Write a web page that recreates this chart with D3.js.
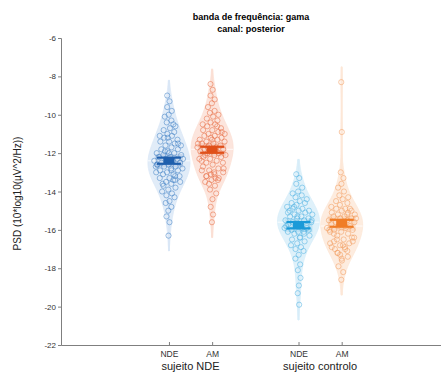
<!DOCTYPE html>
<html>
<head>
<meta charset="utf-8">
<script src="https://cdn.jsdelivr.net/npm/d3@7"></script>
<style>
    body { margin: 0; background: #fff; }
    svg { font-family: "Liberation Sans", Arial, sans-serif; }
</style>
</head>
<body>
<div id="chart"></div>
<script>
// categories: label, group, x position on the axis
const categories = ['NDE', 'AM', 'NDE', 'AM'];
const positions = [1, 2, 4, 5];
const groups = ['sujeito NDE', 'sujeito controlo'];
const yTicks = [-6, -8, -10, -12, -14, -16, -18, -20, -22];

// PSD values, one array per violin
const ndeNde = [-9.0, -9.3, -9.6, -9.8, -10.0, -10.1, -10.3, -10.4, -10.6, -10.7, -10.8, -10.9, -11.0, -11.1, -11.1,
    -11.2, -11.3, -11.4, -11.4, -11.5, -11.6, -11.6, -11.7, -11.8, -11.8, -11.9, -12.0, -12.0, -12.1, -12.1, -12.2,
    -12.2, -12.3, -12.3, -12.4, -12.4, -12.5, -12.5, -12.6, -12.6, -12.7, -12.7, -12.8, -12.8, -12.9, -12.9, -13.0,
    -13.0, -13.1, -13.1, -13.2, -13.3, -13.3, -13.4, -13.5, -13.5, -13.6, -13.7, -13.8, -13.9, -14.0, -14.1, -14.2,
    -14.3, -14.5, -14.6, -14.8, -15.0, -15.3, -15.6, -16.3, -11.5, -12.0, -12.6, -13.2, -11.9, -12.3, -12.9, -13.6,
    -10.5, -11.2, -12.7, -13.4];
const ndeAm = [-8.4, -8.7, -9.0, -9.2, -9.4, -9.6, -9.8, -9.9, -10.0, -10.1, -10.2, -10.3, -10.4, -10.5, -10.5,
    -10.6, -10.7, -10.8, -10.8, -10.9, -11.0, -11.0, -11.1, -11.1, -11.2, -11.2, -11.3, -11.3, -11.4, -11.4, -11.5,
    -11.5, -11.6, -11.6, -11.7, -11.7, -11.8, -11.8, -11.9, -11.9, -12.0, -12.0, -12.1, -12.1, -12.2, -12.2, -12.3,
    -12.3, -12.4, -12.5, -12.5, -12.6, -12.7, -12.8, -12.9, -13.0, -13.1, -13.2, -13.3, -13.4, -13.5, -13.7, -13.9,
    -14.1, -14.4, -14.8, -15.2, -15.6, -11.5, -11.9, -12.1, -10.9, -11.3, -12.4, -10.6, -11.7, -12.8, -13.0, -13.2,
    -13.4, -13.1, -12.9, -13.3, -13.6];
const ctrlNde = [-13.1, -13.3, -13.6, -13.8, -14.0, -14.1, -14.2, -14.3, -14.4, -14.5, -14.6, -14.6, -14.7, -14.8,
    -14.9, -14.9, -15.0, -15.0, -15.1, -15.1, -15.2, -15.2, -15.3, -15.3, -15.4, -15.4, -15.5, -15.5, -15.6, -15.6,
    -15.7, -15.7, -15.8, -15.8, -15.9, -15.9, -16.0, -16.0, -16.1, -16.1, -16.2, -16.2, -16.3, -16.4, -16.5, -16.6,
    -16.7, -16.8, -16.9, -17.0, -17.1, -17.3, -17.5, -17.8, -18.1, -18.5, -18.9, -19.3, -19.9, -15.3, -15.8, -16.1,
    -14.8, -15.5, -16.4, -15.0, -15.9];
const ctrlAm = [-8.3, -10.9, -13.0, -13.3, -13.6, -13.8, -14.0, -14.2, -14.3, -14.4, -14.5, -14.6, -14.7, -14.8,
    -14.9, -14.9, -15.0, -15.0, -15.1, -15.1, -15.2, -15.2, -15.3, -15.3, -15.4, -15.4, -15.5, -15.5, -15.6, -15.6,
    -15.7, -15.7, -15.8, -15.8, -15.9, -15.9, -16.0, -16.0, -16.1, -16.1, -16.2, -16.3, -16.4, -16.5, -16.6, -16.7,
    -16.8, -16.9, -17.0, -17.2, -17.4, -17.6, -17.9, -18.2, -18.6, -15.4, -15.8, -16.2, -14.9, -15.6, -16.0, -15.2,
    -16.5, -16.6, -16.8, -17.0, -17.1, -17.3, -16.7, -16.9, -17.2, -16.4, -17.5];

const series = [ndeNde, ndeAm, ctrlNde, ctrlAm];

// fill, point edge, mean marker colours per violin
const violinFill = ['#dae7f6', '#fbdfd4', '#d7edf9', '#fde7d7'];
const pointColor = ['#4a86c8', '#e8714a', '#55b4e2', '#f3a064'];
const meanColor = ['#1f5fad', '#e0501a', '#1b9ad8', '#f07d26'];

const width = 441, height = 372;
const margin = {top: 38, right: 0, bottom: 27, left: 61};

const svg = d3.select('#chart').append('svg')
    .attr('width', width)
    .attr('height', height);

const x = d3.scaleLinear().domain([-1.5, 7.3]).range([margin.left, width]);
const y = d3.scaleLinear().domain([-22, -6]).range([height - margin.bottom, margin.top]);

// gaussian kernel density estimate
function kde(values, bw, grid) {
    const k = v => Math.exp(-0.5 * v * v) / Math.sqrt(2 * Math.PI);
    return grid.map(t => [t, d3.mean(values, v => k((t - v) / bw)) / bw]);
}

const halfWidth = 21;
const bandwidth = 0.65;
const g = svg.append('g');

series.forEach((vals, i) => {
    const cx = x(positions[i]);
    const lo = d3.min(vals) - 0.8, hi = d3.max(vals) + 0.8;
    const grid = d3.range(lo, hi, 0.05);
    const dens = kde(vals, bandwidth, grid);
    const maxD = d3.max(dens, d => d[1]);
    const w = d3.scaleLinear().domain([0, maxD]).range([0, halfWidth]);
    const densAt = v => kde(vals, bandwidth, [v])[0][1];

    const area = d3.area()
        .curve(d3.curveBasis)
        .y(d => y(d[0]))
        .x0(d => cx - w(d[1]))
        .x1(d => cx + w(d[1]));

    g.append('path')
        .datum(dens)
        .attr('d', area)
        .attr('fill', violinFill[i])
        .attr('fill-opacity', 0.8)
        .attr('stroke', violinFill[i])
        .attr('stroke-width', 0.8);

    // faint centre line through the whole distribution
    g.append('line')
        .attr('x1', cx).attr('x2', cx)
        .attr('y1', y(hi)).attr('y2', y(lo))
        .attr('stroke', violinFill[i])
        .attr('stroke-width', 2);

    // white median line across the violin
    const med = d3.median(vals);
    g.append('line')
        .attr('x1', cx - w(densAt(med))).attr('x2', cx + w(densAt(med)))
        .attr('y1', y(med)).attr('y2', y(med))
        .attr('stroke', '#fff')
        .attr('stroke-opacity', 0.8)
        .attr('stroke-width', 1);

    // scatter, spread by local density
    g.append('g')
        .selectAll('circle')
        .data(vals)
        .enter().append('circle')
        .attr('cx', (v, j) => cx + (((j * 0.6180339) % 1) * 2 - 1) * w(densAt(v)) * 0.72)
        .attr('cy', v => y(v))
        .attr('r', 2.6)
        .attr('fill', 'none')
        .attr('stroke', pointColor[i])
        .attr('stroke-opacity', 0.7)
        .attr('stroke-width', 0.8);

    // mean +/- sem marker
    const m = d3.mean(vals);
    const sem = d3.deviation(vals) / Math.sqrt(vals.length);
    const mk = g.append('g');
    mk.append('rect')
        .attr('x', cx - 14).attr('width', 28)
        .attr('y', y(m + 2.2 * sem)).attr('height', y(m - 2.2 * sem) - y(m + 2.2 * sem))
        .attr('fill', meanColor[i])
        .attr('fill-opacity', 0.15);
    mk.append('rect')
        .attr('x', cx - 5.5).attr('width', 11)
        .attr('y', y(m + sem)).attr('height', y(m - sem) - y(m + sem))
        .attr('fill', meanColor[i]);
    [m + sem, m - sem].forEach(v => {
        mk.append('line')
            .attr('x1', cx - 12).attr('x2', cx + 12)
            .attr('y1', y(v)).attr('y2', y(v))
            .attr('stroke', meanColor[i])
            .attr('stroke-width', 2.2);
    });
});

// axes
const axisColor = '#7f7f7f';
const yAxis = svg.append('g')
    .attr('transform', `translate(${margin.left},0)`)
    .call(d3.axisLeft(y).tickValues(yTicks).tickSize(3).tickPadding(2).tickFormat(d3.format('d')));
yAxis.select('.domain').attr('stroke', axisColor);
yAxis.selectAll('.tick line').attr('stroke', axisColor);
yAxis.selectAll('.tick text')
    .attr('fill', '#333')
    .style('font-size', '8px')
    .text(d => String(d).replace('−', '-'));

const xAxis = svg.append('g')
    .attr('transform', `translate(0,${height - margin.bottom})`)
    .call(d3.axisBottom(x).tickValues(positions).tickSize(-3).tickSizeOuter(0).tickFormat((d, i) => categories[i]));
xAxis.select('.domain').attr('stroke', axisColor);
xAxis.selectAll('.tick line').attr('stroke', axisColor);
xAxis.selectAll('.tick text')
    .attr('fill', '#333')
    .attr('y', 6)
    .style('font-size', '8.5px');

// group labels under the category ticks
groups.forEach((label, gi) => {
    svg.append('text')
        .attr('x', (x(positions[gi * 2]) + x(positions[gi * 2 + 1])) / 2)
        .attr('y', 370)
        .attr('text-anchor', 'middle')
        .attr('fill', '#222')
        .style('font-size', '11px')
        .text(label);
});

// y label
svg.append('text')
    .attr('transform', `translate(21,${(margin.top + height - margin.bottom) / 2 + 2}) rotate(-90)`)
    .attr('text-anchor', 'middle')
    .attr('fill', '#222')
    .style('font-size', '10px')
    .text('PSD (10*log10(µV^2/Hz))');

// title
const cxTitle = (margin.left + width) / 2;
svg.append('text')
    .attr('x', cxTitle).attr('y', 20)
    .attr('text-anchor', 'middle')
    .style('font-size', '9px').style('font-weight', 'bold')
    .text('banda de frequência: gama');
svg.append('text')
    .attr('x', cxTitle).attr('y', 32)
    .attr('text-anchor', 'middle')
    .style('font-size', '9px').style('font-weight', 'bold')
    .text('canal: posterior');
</script>
</body>
</html>
